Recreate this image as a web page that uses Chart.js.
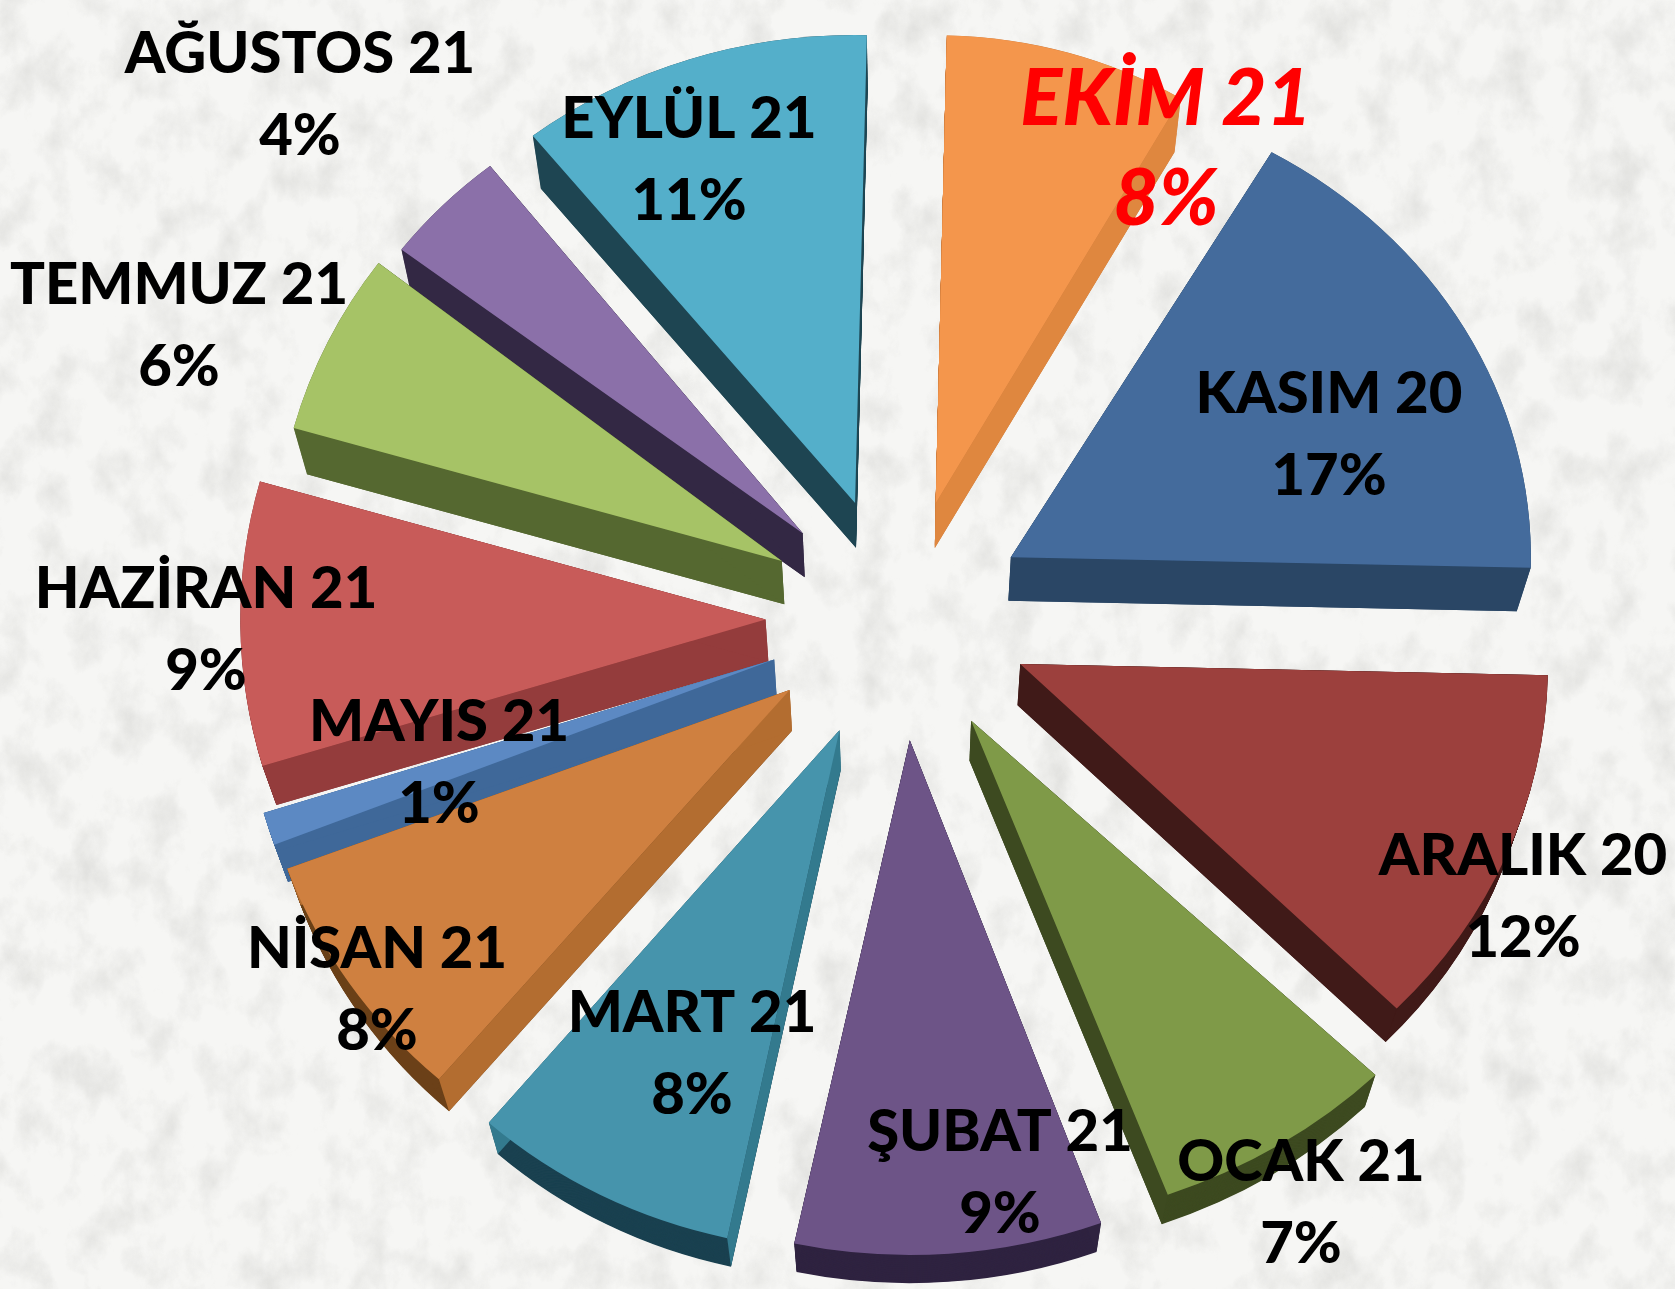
<!DOCTYPE html>
<html><head><meta charset="utf-8">
<style>
html,body{margin:0;padding:0;width:1675px;height:1289px;overflow:hidden;background:#f4f4f2}
svg.bg{position:absolute;left:0;top:0}
canvas{position:absolute;left:0;top:0}
</style>
<script src="https://cdn.jsdelivr.net/npm/chart.js@4/dist/chart.umd.js"></script>
</head><body>
<svg class="bg" width="1675" height="1289" aria-hidden="true">
<filter id="marble" x="0" y="0" width="100%" height="100%">
<feTurbulence type="fractalNoise" baseFrequency="0.028 0.02" numOctaves="6" seed="11"/>
<feColorMatrix type="matrix" values="0 0 0 0 0.68  0 0 0 0 0.68  0 0 0 0 0.66  2.2 0 0 0 -0.98"/>
</filter>
<rect width="1675" height="1289" fill="#f6f6f4"/>
<rect width="1675" height="1289" filter="url(#marble)" opacity="0.62"/>
</svg>
<canvas id="c" width="1675" height="1289"></canvas>
<script>
const categories=["EKİM 21","KASIM 20","ARALIK 20","OCAK 21","ŞUBAT 21","MART 21","NİSAN 21","MAYIS 21","HAZİRAN 21","TEMMUZ 21","AĞUSTOS 21","EYLÜL 21"];
const shares=[8,17,12,7,9,8,8,1,9,6,4,11];
const topColors=["#F4964C","#446B9C","#9C403D","#7F9A48","#6D5487","#4694AC","#CF8040","#5C89C3","#C85B59","#A6C366","#8B70A9","#54AFCA"];
const cutColors=["#DF873F","#2A4665","#401A18","#3D4A20","#2F2340","#337A8E","#B36D30","#3F6899","#943C3C","#556830","#332844","#1E4552"];
const rimColors=["#C4763A","#2A4665","#401A18","#3D4A20","#2F2340","#1A4150","#6B4018","#3F6899","#7A3030","#556830","#332844","#1E4552"];
const explode=[141,130,130,130,130,130,130,130,130,136,140,140];
const nudgeX=[0,0,3,3,3,0,-1,0,-2,6,5,2];
const nudgeY=[0,-11,-7,-3,-2,0,-2,-3,-7,-10,-4,-3];
const sliceScaleX=[0.94,1,1.015,1.09,1.06,1.03,1.03,1.025,1.01,0.975,0.97,1];
const sliceScaleY=[1,1,1.05,1.08,1.10,1.11,1.10,1.14,1.09,1.05,1,1];
const paintOrder=[0,1,11,10,9,8,7,6,2,3,5,4];
const labelX=[1166,1329,1523,1301,1000,692,377,439,206,179,300,689];
const labelY=[100,394,856,1162,1132,1013,949,722,589,285,54,119];
const squash=0.9, depth=42, shrink=0.022, lineGap=82;

function sliceMatrix(el,i,t){
  const a=(el.startAngle+el.endAngle)/2, m=new DOMMatrix();
  m.translateSelf(el.x,el.y);
  m.scaleSelf(1,squash);
  m.translateSelf(0,t*depth/squash);
  m.scaleSelf(1-shrink*t,1-shrink*t);
  m.translateSelf(Math.cos(a)*explode[i]+nudgeX[i],Math.sin(a)*explode[i]+nudgeY[i]/squash);
  m.scaleSelf(sliceScaleX[i],sliceScaleY[i]);
  m.translateSelf(-el.x,-el.y);
  return m;
}
function matrixArgs(m){return [m.a,m.b,m.c,m.d,m.e,m.f];}
const pie3d={
  id:'pie3d',
  beforeDatasetDraw(chart,args){
    const ctx=chart.ctx, arcs=args.meta.data;
    paintOrder.forEach(i=>{
      const el=arcs[i];
      ctx.fillStyle=rimColors[i];
      for(let s=depth;s>=0;s-=1){
        ctx.save(); ctx.transform(...matrixArgs(sliceMatrix(el,i,s/depth)));
        ctx.beginPath(); ctx.moveTo(el.x,el.y);
        ctx.arc(el.x,el.y,el.outerRadius,el.startAngle,el.endAngle);
        ctx.closePath(); ctx.fill(); ctx.restore();
      }
      [el.startAngle,el.endAngle].forEach(ang=>{
        const top=sliceMatrix(el,i,0), bot=sliceMatrix(el,i,1);
        const tip=new DOMPoint(el.x,el.y);
        const rim=new DOMPoint(el.x+Math.cos(ang)*el.outerRadius,el.y+Math.sin(ang)*el.outerRadius);
        const pts=[top.transformPoint(tip),top.transformPoint(rim),bot.transformPoint(rim),bot.transformPoint(tip)];
        ctx.fillStyle=cutColors[i];
        ctx.beginPath(); pts.forEach((p,k)=>k?ctx.lineTo(p.x,p.y):ctx.moveTo(p.x,p.y));
        ctx.closePath(); ctx.fill();
      });
      ctx.save(); ctx.transform(...matrixArgs(sliceMatrix(el,i,0))); el.draw(ctx); ctx.restore();
    });
    return false;
  },
  afterDraw(chart){
    const ctx=chart.ctx;
    ctx.save(); ctx.textAlign='center'; ctx.textBaseline='middle';
    categories.forEach((name,i)=>{
      const hot=i===0;
      ctx.font=(hot?'italic 900 78px':'900 58px')+' Lato';
      ctx.fillStyle=hot?'#FF0000':'#000000';
      ctx.fillText(name,labelX[i],labelY[i]);
      ctx.fillText(shares[i]+'%',labelX[i],labelY[i]+(hot?100:lineGap));
    });
    ctx.restore();
  }
};
new Chart(document.getElementById('c'),{
  type:'pie',
  data:{labels:categories,datasets:[{data:shares,backgroundColor:topColors,borderWidth:0,radius:520,offset:0}]},
  options:{responsive:false,animation:false,rotation:1.3,
    layout:{padding:{left:120,top:0,right:0,bottom:38}},
    plugins:{legend:{display:false},tooltip:{enabled:false}}},
  plugins:[pie3d]
});
</script>
</body></html>
